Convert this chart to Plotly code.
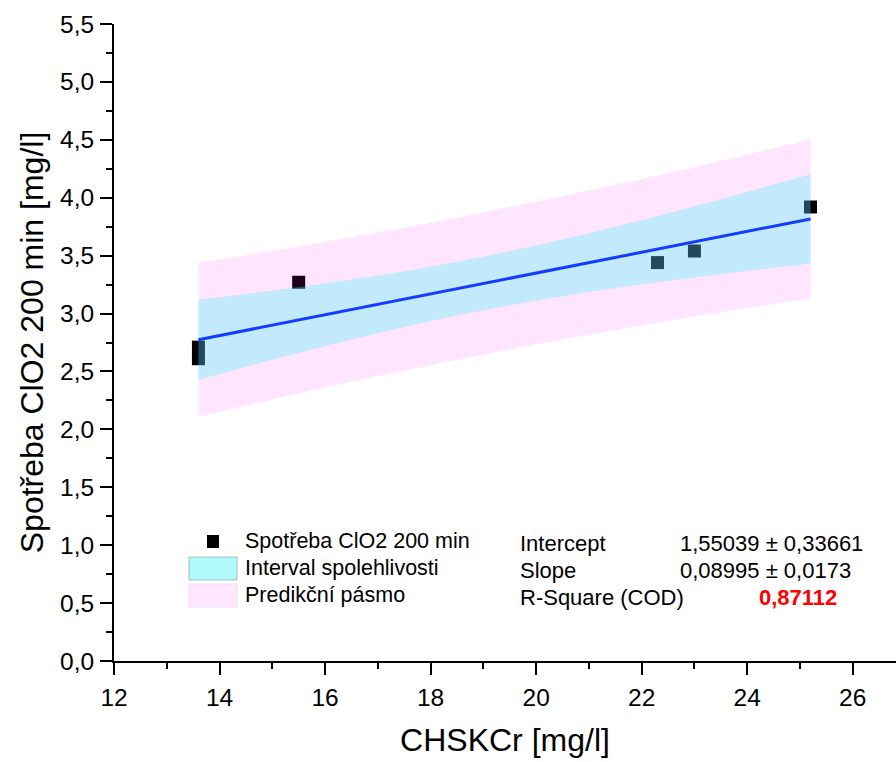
import numpy as np
import plotly.graph_objects as go

# Measured data: COD (CHSKCr) vs. ClO2 consumption after 200 min
chskcr = [13.6, 13.6, 15.5, 22.3, 23.0, 25.2]
clo2_200 = [2.61, 2.71, 3.27, 3.44, 3.54, 3.92]

# Linear fit results
intercept = 1.55039
intercept_err = 0.33661
slope = 0.08995
slope_err = 0.0173
r_square = 0.87112
t_crit = 2.776445  # Student t, 95 %, df = n - 2 = 4

x_ticks = [12, 14, 16, 18, 20, 22, 24, 26]
y_ticks = [0.0, 0.5, 1.0, 1.5, 2.0, 2.5, 3.0, 3.5, 4.0, 4.5, 5.0, 5.5]

FONT = "Liberation Sans, Arial, sans-serif"

# Plot-area geometry (pixels) used for placing the legend block
W, H = 896, 762
ML, MR, MT, MB = 114, 0, 24, 101
PW, PH = W - ML - MR, H - MT - MB


def px(xp):
    return (xp - ML) / PW


def py(yp):
    return (H - MB - yp) / PH


# Confidence and prediction bands of the regression line
x = np.array(chskcr)
y = np.array(clo2_200)
n = len(x)
resid = y - (intercept + slope * x)
s = np.sqrt(np.sum(resid ** 2) / (n - 2))
xm = x.mean()
sxx = np.sum((x - xm) ** 2)
xs = np.linspace(x.min(), x.max(), 80)
fit = intercept + slope * xs
ci = t_crit * s * np.sqrt(1.0 / n + (xs - xm) ** 2 / sxx)
pi = t_crit * s * np.sqrt(1.0 + 1.0 / n + (xs - xm) ** 2 / sxx)

CI_COLOR = "rgba(55,246,245,0.30)"
PI_COLOR = "rgba(255,0,255,0.10)"

fig = go.Figure()

fig.add_trace(go.Scatter(
    x=chskcr, y=clo2_200, mode="markers",
    marker=dict(symbol="square", size=13, color="black", line=dict(width=0)),
    name="Spotřeba ClO2 200 min", showlegend=False,
))

fig.add_trace(go.Scatter(
    x=np.concatenate([xs, xs[::-1]]),
    y=np.concatenate([fit + pi, (fit - pi)[::-1]]),
    fill="toself", fillcolor=PI_COLOR, mode="none",
    name="Predikční pásmo", showlegend=False, hoverinfo="skip",
))

fig.add_trace(go.Scatter(
    x=np.concatenate([xs, xs[::-1]]),
    y=np.concatenate([fit + ci, (fit - ci)[::-1]]),
    fill="toself", fillcolor=CI_COLOR, mode="none",
    name="Interval spolehlivosti", showlegend=False, hoverinfo="skip",
))

fig.add_trace(go.Scatter(
    x=[x.min(), x.max()],
    y=[intercept + slope * x.min(), intercept + slope * x.max()],
    mode="lines", line=dict(color="rgb(20,60,255)", width=3),
    name="Lineární fit", showlegend=False,
))

# Legend block (symbols + labels)
shapes = [
    dict(type="rect", xref="paper", yref="paper",
         x0=px(207), x1=px(219), y0=py(548), y1=py(535),
         fillcolor="black", line=dict(width=0)),
    dict(type="rect", xref="paper", yref="paper",
         x0=px(189), x1=px(237), y0=py(580), y1=py(557),
         fillcolor="rgb(178,250,250)", line=dict(color="rgb(160,190,190)", width=1)),
    dict(type="rect", xref="paper", yref="paper",
         x0=px(189), x1=px(237), y0=py(607), y1=py(584),
         fillcolor="rgb(255,232,253)", line=dict(color="rgb(240,220,240)", width=1)),
]

annotations = []
for label, yy in [("Spotřeba ClO2 200 min", 541), ("Interval spolehlivosti", 568),
                  ("Predikční pásmo", 595)]:
    annotations.append(dict(
        text=label, xref="paper", yref="paper", x=px(243), y=py(yy),
        xanchor="left", yanchor="middle", showarrow=False,
        font=dict(family=FONT, size=21.5, color="black"),
    ))


def dec(v):
    return str(v).replace(".", ",")


stats = [
    ("Intercept", f"{dec(intercept)} ± {dec(intercept_err)}", 543, 678, "black", False),
    ("Slope", f"{dec(slope)} ± {dec(slope_err)}", 570, 678, "black", False),
    ("R-Square (COD)", dec(r_square), 597, 757, "red", True),
]
for name, val, yy, vx, col, bold in stats:
    annotations.append(dict(
        text=name, xref="paper", yref="paper", x=px(518), y=py(yy),
        xanchor="left", yanchor="middle", showarrow=False,
        font=dict(family=FONT, size=22, color="black"),
    ))
    annotations.append(dict(
        text=f"<b>{val}</b>" if bold else val, xref="paper", yref="paper",
        x=px(vx), y=py(yy), xanchor="left", yanchor="middle", showarrow=False,
        font=dict(family=FONT, size=22, color=col),
    ))

axis_common = dict(
    showline=True, linecolor="black", linewidth=2,
    ticks="outside", ticklen=12, tickwidth=2, tickcolor="black",
    showgrid=False, zeroline=False,
    tickfont=dict(family=FONT, size=24.5, color="black"),
)

fig.update_layout(
    width=W, height=H,
    margin=dict(l=ML, r=MR, t=MT, b=MB),
    paper_bgcolor="white", plot_bgcolor="white",
    separators=", ",
    shapes=shapes, annotations=annotations,
    xaxis=dict(
        range=[12, 26.82], tickvals=x_ticks, ticklabelstandoff=2,
        minor=dict(ticks="outside", ticklen=6, tickwidth=2, tickcolor="black", dtick=1, tick0=12),
        title=dict(text="CHSKCr [mg/l]", font=dict(family=FONT, size=32, color="black"), standoff=18),
        **axis_common,
    ),
    yaxis=dict(
        range=[0, 5.5], tickvals=y_ticks, tickformat=".1f", ticklabelstandoff=1,
        minor=dict(ticks="outside", ticklen=6, tickwidth=2, tickcolor="black", dtick=0.25, tick0=0),
        title=dict(text="Spotřeba ClO2 200 min [mg/l]", font=dict(family=FONT, size=32, color="black"), standoff=7),
        **axis_common,
    ),
)

fig.write_html("out.html")
